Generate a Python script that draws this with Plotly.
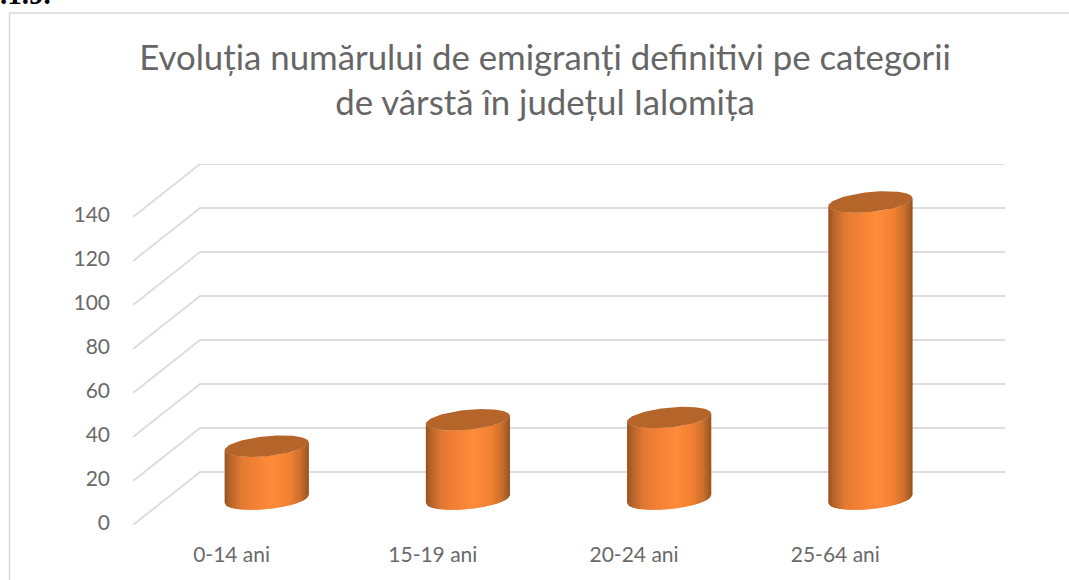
import numpy as np
import plotly.graph_objects as go

categories = ["0-14 ani", "15-19 ani", "20-24 ani", "25-64 ani"]
values = [24, 36, 37, 135]
y_ticks = [0, 20, 40, 60, 80, 100, 120, 140]
title_lines = ["Evoluția numărului de emigranți definitivi pe categorii",
               "de vârstă în județul Ialomița"]
clipped_heading = ".1.9."

W, H = 1069, 580
LEFT, RIGHT, BOTTOM, TOP = 133, 1005, 525, 164
PX_CAT = 201.0
PX_VAL = 2.2
DEPTH_X = 67 / PX_CAT
LIFT = 2 / PX_VAL            # tick labels sit slightly above the floor's front edge
DEPTH_Y = 51 / PX_VAL
RX = 42.0 / PX_CAT
RY = 10.0 / PX_VAL
SHEAR = 4.0 / PX_VAL
N_STRIPS = 46

GRID = "#dcdcdc"
TEXT = "#666666"
TICK = "#6a6a6a"
CAP = "#b5642a"
STOPS = [(0.0, (150, 82, 32)), (0.06, (181, 100, 42)), (0.2, (228, 122, 50)),
         (0.42, (247, 132, 54)), (0.58, (255, 139, 58)), (0.78, (240, 128, 50)),
         (0.9, (205, 112, 44)), (1.0, (150, 84, 34))]


def shade(f):
    xs = [s[0] for s in STOPS]
    rgb = [np.interp(f, xs, [s[1][k] for s in STOPS]) for k in range(3)]
    return "rgb({:.0f},{:.0f},{:.0f})".format(*rgb)


fig = go.Figure()

# back wall and side gridlines, on the value axis
gx, gy = [], []
for v in y_ticks:
    gx += [-0.5, -0.5 + DEPTH_X, 3.5 + DEPTH_X, None]
    gy += [v - LIFT, v + DEPTH_Y, v + DEPTH_Y, None]
fig.add_trace(go.Scatter(x=gx, y=gy, mode="lines", line=dict(color=GRID, width=1.8),
                         hoverinfo="skip", showlegend=False))

# cylinders
for i, (cat, val) in enumerate(zip(categories, values)):
    cx = i + DEPTH_X / 2 - 0.5 / PX_CAT
    base = 24 / PX_VAL
    top = base + val
    u = np.linspace(-1, 1, N_STRIPS + 1)
    # lower (front) edge of an ellipse at horizontal position u
    low = lambda a: -RY * np.sqrt(np.clip(1 - a * a, 0, 1)) + SHEAR * a
    for j in range(N_STRIPS):
        a = u[j:min(j + 3, N_STRIPS + 1)]
        xs = cx + RX * a
        yt = top + low(a)
        yb = base + low(a)
        fig.add_trace(go.Scatter(
            x=np.r_[xs, xs[::-1]], y=np.r_[yt, yb[::-1]],
            mode="lines", fill="toself", fillcolor=shade((j + 0.5) / N_STRIPS),
            line=dict(width=0), hoverinfo="skip", showlegend=False))
    t = np.linspace(0, 2 * np.pi, 90)
    fig.add_trace(go.Scatter(
        x=cx + RX * np.cos(t), y=top + RY * np.sin(t) + SHEAR * np.cos(t),
        mode="lines", fill="toself", fillcolor=CAP, line=dict(width=0),
        name=cat, hoverinfo="skip", showlegend=False))

fig.update_layout(
    width=W, height=H, margin=dict(l=0, r=0, t=0, b=0, autoexpand=False),
    paper_bgcolor="white", plot_bgcolor="rgba(0,0,0,0)", showlegend=False,
    font=dict(family="Lato", color=TEXT),
    title=dict(text="<br>".join(title_lines), x=545 / W, xanchor="center",
               y=1 - 70 / H, yanchor="top", font=dict(family="Lato", size=34.8, color=TEXT)),
    xaxis=dict(domain=[LEFT / W, RIGHT / W], range=[-0.5, 3.5 + DEPTH_X],
               tickmode="array", tickvals=[i - 0.01 for i in range(4)], ticktext=categories,
               showgrid=False, zeroline=False, showline=False, ticks="",
               ticklabelstandoff=15, tickfont=dict(family="Lato", size=21, color=TICK)),
    yaxis=dict(domain=[1 - BOTTOM / H, 1 - TOP / H], range=[-LIFT, 140 + DEPTH_Y],
               tickmode="array", tickvals=y_ticks, showgrid=False, zeroline=False,
               showline=False, ticks="", ticklabelstandoff=22,
               tickfont=dict(family="Lato", size=21, color=TICK)),
    shapes=[dict(type="path", xref="paper", yref="paper",
                 path=f"M {9.5 / W} -0.05 L {9.5 / W} {1 - 13 / H} L 1.05 {1 - 13 / H}",
                 line=dict(color="#d9d9d9", width=1.5))],
    annotations=[dict(text=f"<b>{clipped_heading}</b>", xref="paper", yref="paper",
                      x=-2 / W, y=1 - 12 / H, xanchor="left", yanchor="bottom", showarrow=False,
                      font=dict(family="Liberation Serif", size=29, color="black"))],
)

fig.write_html("out.html", config=dict(displayModeBar=False),
               post_script="document.body.style.margin='0';document.documentElement.style.overflow='hidden';")
